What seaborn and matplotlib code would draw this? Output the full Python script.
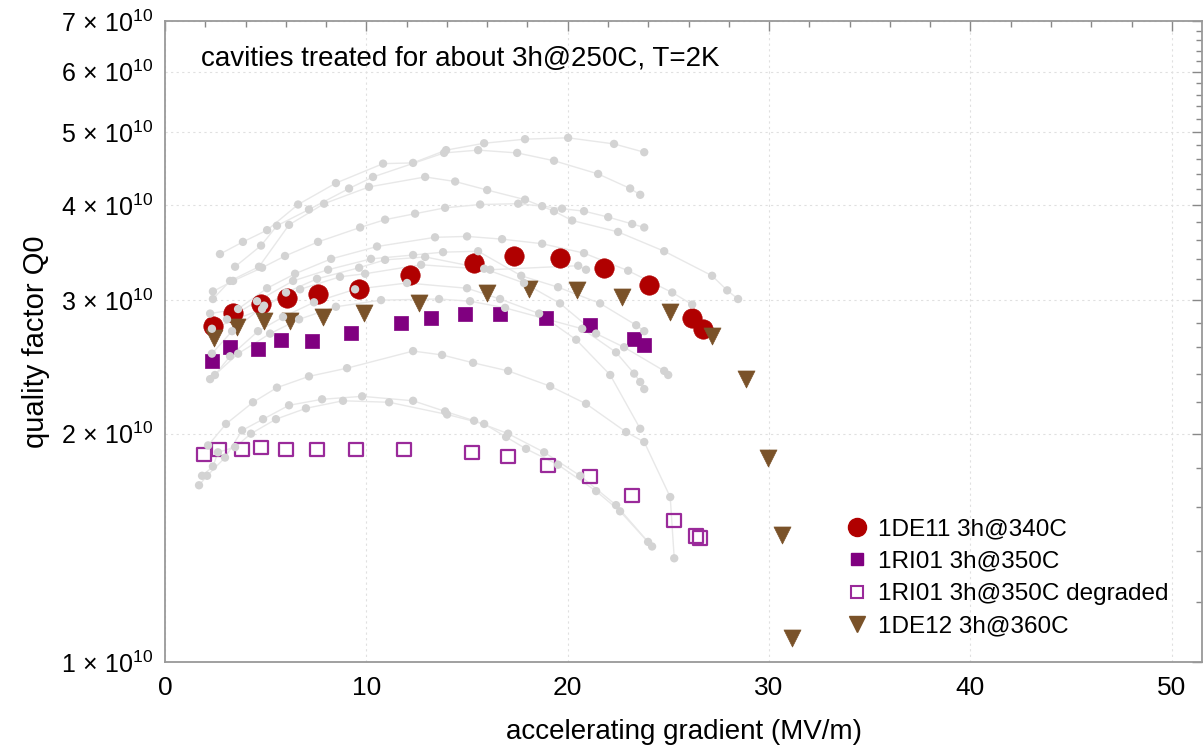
import numpy as np
import pandas as pd
import matplotlib
matplotlib.use("Agg")
import matplotlib.pyplot as plt
from matplotlib.lines import Line2D
from matplotlib.ticker import FixedLocator, NullFormatter
import seaborn as sns

# ---------------- data ----------------
# 1DE11 3h@340C
de11_E = [2.38, 3.38, 4.77, 6.06, 7.60, 9.64, 12.17, 15.35, 17.34, 19.62, 21.81, 24.04, 26.18, 26.73]
de11_Q = [2.776, 2.887, 2.968, 3.022, 3.059, 3.106, 3.241, 3.360, 3.432, 3.411, 3.309, 3.144, 2.844, 2.751]
# 1RI01 3h@350C
ri01_E = [2.33, 3.23, 4.62, 5.76, 7.30, 9.24, 11.72, 13.21, 14.90, 16.64, 18.93, 21.11, 23.30, 23.80]
ri01_Q = [2.497, 2.605, 2.589, 2.661, 2.653, 2.718, 2.802, 2.844, 2.879, 2.879, 2.844, 2.785, 2.669, 2.620]
# 1RI01 3h@350C degraded
ri01d_E = [1.94, 2.68, 3.83, 4.77, 6.01, 7.55, 9.49, 11.87, 15.25, 17.04, 19.03, 21.11, 23.20, 25.29, 26.38, 26.58]
ri01d_Q = [1.878, 1.907, 1.907, 1.919, 1.907, 1.907, 1.907, 1.907, 1.889, 1.866, 1.816, 1.757, 1.658, 1.537, 1.465, 1.456]
# 1DE12 3h@360C
de12_E = [2.43, 3.58, 4.92, 6.21, 7.85, 9.89, 12.62, 16.00, 18.08, 20.47, 22.70, 25.09, 27.17, 28.86, 29.96, 30.65, 31.15]
de12_Q = [2.677, 2.768, 2.818, 2.818, 2.853, 2.887, 2.977, 3.069, 3.106, 3.096, 3.031, 2.896, 2.693, 2.364, 1.855, 1.470, 1.075]

# other cavities (grey background curves): gradient (MV/m), Q0 (1e10)
bg_E = [
    [2.73, 3.87, 5.07, 6.61, 8.49, 10.83, 12.32, 13.96, 15.85, 17.88, 20.02, 22.30, 23.80],
    [3.48, 4.77, 5.56, 7.15, 9.14, 10.33, 13.86, 15.55, 17.49, 19.32, 21.51, 23.10, 23.60],
    [2.38, 3.38, 4.82, 5.96, 7.60, 9.69, 10.93, 12.42, 13.91, 15.65, 17.54, 18.73, 19.72, 20.81, 22.01, 23.20, 23.80],
    [2.38, 3.23, 4.67, 6.16, 7.90, 10.13, 12.92, 14.41, 16.00, 17.88, 19.32, 20.22, 22.50, 24.79, 27.17, 27.92, 28.46],
    [2.24, 3.63, 5.07, 6.46, 8.25, 10.53, 13.41, 15.00, 16.74, 18.73, 20.81, 23.00, 25.19, 26.18],
    [3.08, 4.57, 6.36, 8.10, 10.23, 12.32, 13.81, 15.55, 17.69, 19.52, 21.61, 23.40, 23.80],
    [2.33, 4.82, 6.01, 7.55, 9.64, 10.93, 12.92, 15.85, 17.83, 19.62, 21.41, 22.80, 24.79, 24.99],
    [2.48, 3.23, 4.62, 5.86, 7.40, 9.44, 12.02, 15.00, 16.64, 18.58, 20.42, 22.11, 23.60],
    [2.24, 3.63, 5.22, 6.66, 8.49, 10.73, 13.61, 15.15, 16.89, 20.72, 22.40, 23.30, 23.60, 23.80],
    [2.33, 3.33, 4.92, 6.71, 8.69, 9.94, 12.72, 16.15, 20.52, 20.91],
    [2.14, 3.03, 4.37, 5.56, 7.15, 9.04, 12.32, 13.76, 15.30, 17.04, 19.13, 20.91, 22.90, 23.80, 25.09, 25.29],
    [1.69, 2.09, 2.98, 3.83, 4.87, 6.16, 7.80, 9.79, 12.32, 13.91, 15.35, 17.04, 18.83, 20.62, 22.40, 23.99],
    [1.84, 2.38, 2.63, 3.48, 4.27, 5.51, 7.00, 8.84, 11.13, 14.01, 15.85, 16.94, 17.93, 19.52, 21.41, 22.60, 24.19],
]
bg_Q = [
    [3.45, 3.58, 3.71, 4.01, 4.28, 4.54, 4.55, 4.73, 4.83, 4.89, 4.91, 4.82, 4.70],
    [3.32, 3.54, 3.76, 3.95, 4.21, 4.36, 4.69, 4.73, 4.69, 4.58, 4.40, 4.21, 4.13],
    [3.08, 3.18, 3.31, 3.43, 3.58, 3.74, 3.83, 3.90, 3.97, 4.01, 4.02, 3.99, 3.96, 3.93, 3.86, 3.78, 3.74],
    [3.01, 3.18, 3.32, 3.77, 4.02, 4.23, 4.36, 4.30, 4.19, 4.07, 3.93, 3.82, 3.69, 3.48, 3.23, 3.09, 3.01],
    [2.88, 2.92, 3.11, 3.25, 3.40, 3.53, 3.63, 3.64, 3.61, 3.56, 3.46, 3.28, 3.07, 2.96],
    [2.83, 2.99, 3.18, 3.29, 3.40, 3.44, 3.47, 3.48, 3.23, 3.12, 2.97, 2.78, 2.73],
    [2.75, 2.92, 3.07, 3.20, 3.31, 3.39, 3.42, 3.30, 3.16, 2.97, 2.71, 2.60, 2.42, 2.39],
    [2.39, 2.53, 2.73, 2.85, 2.98, 3.10, 3.16, 3.11, 3.01, 2.88, 2.66, 2.39, 2.03],
    [2.36, 2.55, 2.71, 2.83, 2.94, 3.00, 3.01, 2.99, 2.93, 2.75, 2.56, 2.40, 2.34, 2.29],
    [2.55, 2.73, 2.95, 3.10, 3.22, 3.25, 3.34, 3.29, 3.33, 3.29],
    [1.93, 2.06, 2.20, 2.30, 2.38, 2.44, 2.57, 2.54, 2.48, 2.42, 2.31, 2.19, 2.01, 1.95, 1.65, 1.37],
    [1.71, 1.76, 1.86, 2.02, 2.09, 2.18, 2.22, 2.24, 2.21, 2.14, 2.08, 2.00, 1.89, 1.76, 1.61, 1.44],
    [1.76, 1.81, 1.89, 1.92, 2.00, 2.09, 2.16, 2.21, 2.20, 2.12, 2.06, 1.98, 1.91, 1.82, 1.68, 1.58, 1.42],
]

labels = ["1DE11 3h@340C", "1RI01 3h@350C", "1RI01 3h@350C degraded", "1DE12 3h@360C"]
title_text = "cavities treated for about 3h@250C, T=2K"
x_label = "accelerating gradient (MV/m)"
y_label = "quality factor Q0"
y_major = [1, 2, 3, 4, 5, 6, 7]
x_major = [0, 10, 20, 30, 40, 50]

# ---------------- style ----------------
sns.set_theme(style="white")
FONT = ["Liberation Sans", "DejaVu Sans"]
plt.rcParams["font.family"] = FONT
plt.rcParams["mathtext.fontset"] = "custom"
plt.rcParams["mathtext.rm"] = "Liberation Sans"
plt.rcParams["mathtext.it"] = "Liberation Sans:italic"
plt.rcParams["mathtext.bf"] = "Liberation Sans:bold"
plt.rcParams["text.color"] = "black"
plt.rcParams["axes.labelcolor"] = "black"
plt.rcParams["xtick.labelcolor"] = "black"
plt.rcParams["ytick.labelcolor"] = "black"

fig = plt.figure(figsize=(12.04, 7.51), dpi=100)
ax = fig.add_axes([165 / 1204, 1 - 662 / 751, 1037 / 1204, 641 / 751])

# grey background curves
rows = []
for i, (es, qs) in enumerate(zip(bg_E, bg_Q)):
    for j, (e, q) in enumerate(zip(es, qs)):
        rows.append({"curve": i, "order": j, "E": e, "Q": q * 1e10})
bg = pd.DataFrame(rows)
sns.lineplot(data=bg, x="E", y="Q", units="curve", estimator=None, sort=False,
             color="#e8e8e8", linewidth=1.0, ax=ax, zorder=1, legend=False)

RED = "#b00000"
PURPLE = "#800080"
OPEN = "#9a2a9a"
BROWN = "#7a5229"

def series(E, Q):
    return pd.DataFrame({"E": E, "Q": np.array(Q) * 1e10})

sns.scatterplot(data=series(de11_E, de11_Q), x="E", y="Q", marker="o", s=195,
                color=RED, edgecolor=RED, linewidth=0.5, ax=ax, zorder=3, legend=False)
sns.scatterplot(data=series(ri01_E, ri01_Q), x="E", y="Q", marker="s", s=95,
                color=PURPLE, edgecolor=PURPLE, linewidth=0.5, ax=ax, zorder=3, legend=False)
sns.scatterplot(data=series(ri01d_E, ri01d_Q), x="E", y="Q", marker="s", s=95,
                facecolor="none", edgecolor=OPEN, linewidth=1.6, ax=ax, zorder=3, legend=False)
sns.scatterplot(data=series(de12_E, de12_Q), x="E", y="Q", marker="v", s=150,
                color=BROWN, edgecolor=BROWN, linewidth=0.5, ax=ax, zorder=3, legend=False)

# grey dots on top
sns.scatterplot(data=bg, x="E", y="Q", marker="o", s=36, color="#d3d3d3",
                edgecolor="none", ax=ax, zorder=4, legend=False)

# axes
ax.set_yscale("log")
ax.set_xlim(0, 51.5)
ax.set_ylim(1e10, 7e10)
ax.yaxis.set_major_locator(FixedLocator([v * 1e10 for v in y_major]))
ax.yaxis.set_minor_locator(FixedLocator([v * 1e10 for v in np.arange(1.0, 7.01, 0.2)]))
ax.set_yticklabels([r"$%d\,\times\,10^{10}$" % v for v in y_major])
ax.yaxis.set_minor_formatter(NullFormatter())
ax.xaxis.set_major_locator(FixedLocator(x_major))
ax.xaxis.set_minor_locator(FixedLocator(np.arange(0, 52, 2)))
ax.set_xticklabels([str(v) for v in x_major])

ax.tick_params(axis="both", which="both", direction="in", top=True, right=True,
               color="#888888", width=1.0)
ax.tick_params(axis="both", which="major", length=7)
ax.tick_params(axis="both", which="minor", length=4)
ax.tick_params(axis="x", which="major", labelsize=19, pad=10)
ax.tick_params(axis="y", which="major", labelsize=18, pad=8)

for sp in ax.spines.values():
    sp.set_color("#999999")
    sp.set_linewidth(1.3)

ax.grid(True, which="major", linestyle=(0, (2, 3)), color="#e0e0e0", linewidth=0.8)
ax.set_axisbelow(True)

ax.set_xlabel(x_label, fontsize=20, labelpad=14)
ax.set_ylabel(y_label, fontsize=21, labelpad=8)
ax.text(0.035, 0.94, title_text, transform=ax.transAxes, fontsize=20,
        ha="left", va="center")

handles = [
    Line2D([], [], linestyle="none", marker="o", markersize=13, color=RED),
    Line2D([], [], linestyle="none", marker="s", markersize=8.5, color=PURPLE),
    Line2D([], [], linestyle="none", marker="s", markersize=8, markerfacecolor="white",
           markeredgecolor=OPEN, markeredgewidth=1.5),
    Line2D([], [], linestyle="none", marker="v", markersize=11, color=BROWN),
]
ax.legend(handles, labels, loc="center left", bbox_to_anchor=(0.656, 0.131),
          frameon=False, fontsize=17.5, handlelength=1.0, handletextpad=0.35,
          labelspacing=0.42, borderpad=0, borderaxespad=0)

fig.savefig("out.png", dpi=100)
